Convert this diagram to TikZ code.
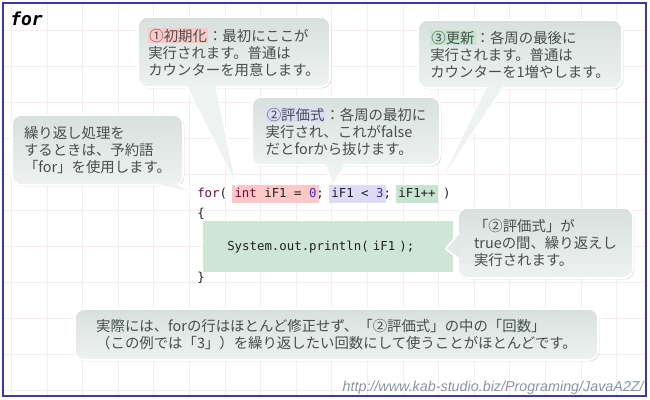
\documentclass[tikz,border=0pt]{standalone}
\usepackage{fontspec}
\setmainfont{Noto Sans CJK JP}
\newfontfamily\codefont{DejaVu Sans Mono}[ItalicFont={DejaVu Sans Mono Oblique}, BoldItalicFont={DejaVu Sans Mono Bold Oblique}]
\newfontfamily\urlfont{Liberation Sans}
\usetikzlibrary{positioning,calc,shadows}

\definecolor{framecol}{HTML}{3A3AA6}
\definecolor{gridcol}{HTML}{FAEAEF}
\definecolor{notetop}{HTML}{D8E0DD}
\definecolor{notemid}{HTML}{E3E9E6}
\definecolor{notebot}{HTML}{EEF2F0}
\definecolor{notetext}{HTML}{43504B}
\definecolor{initbg}{HTML}{FFC8C8}
\definecolor{condbg}{HTML}{DCDCF8}
\definecolor{updbg}{HTML}{C6E4CF}
\definecolor{bodybg}{HTML}{CDE6D5}
\definecolor{codekw}{HTML}{800040}
\definecolor{codenum}{HTML}{3A2AE0}
\definecolor{codetext}{HTML}{202020}
\definecolor{urlcol}{HTML}{8A94A8}

\newlength\cw
\setlength\cw{5.587pt}
\newcommand\kw[1]{\textcolor{codekw}{#1}}
\newcommand\num[1]{\textcolor{codenum}{#1}}
\newcommand\hlbox[2]{{\setlength\fboxsep{0.8pt}\colorbox{#1}{#2}}}
\newcommand\notesize{\fontsize{10.8}{12.75}\selectfont}
\newcommand\codesize{\fontsize{9.28}{11}\selectfont}

\begin{document}
\begin{tikzpicture}[x=0.75pt, y=-0.75pt,
  note/.style={draw=white, line width=1.2pt, rounded corners=7pt, top color=notetop, bottom color=notebot,
    text=notetext, align=left, font=\notesize, inner sep=0pt,
    drop shadow={shadow xshift=1pt, shadow yshift=-1pt, opacity=0.25}},
  tail/.style={fill=#1, draw=white, line width=1.2pt, line join=round},
  tail/.default=notebot,
  code/.style={font=\codefont\codesize, text=codetext, anchor=base west, inner xsep=0pt, inner ysep=1.75pt,
    text height=7.5pt, text depth=2.5pt},
  codehl/.style={code, fill=#1, inner xsep=2pt, xshift=-2pt}]
\useasboundingbox (0,0) rectangle (650,400);
\fill[white] (0,0) rectangle (650,400);
% grid
\foreach \gx in {11.4,47,...,640} \draw[gridcol, line width=0.5pt] (\gx,4) -- (\gx,395);
\foreach \gy in {30,66,...,390} \draw[gridcol, line width=0.5pt] (4,\gy) -- (645,\gy);

\node[font=\codefont\bfseries\itshape\fontsize{13.5}{16}\selectfont, anchor=base west, inner sep=0pt] (title) at (10,25) {for};

% code
\node[code] (kw) at (197,197) {\kw{for}(};
\node[codehl=initbg] (init) at ([xshift=5\cw]kw.base west) {\kw{int} iF1 = \num{0}};
\node[code] (semi1) at ([xshift=16\cw]kw.base west) {;};
\node[codehl=condbg] (cond) at ([xshift=18\cw]kw.base west) {iF1 < \num{3}};
\node[code] (semi2) at ([xshift=25\cw]kw.base west) {;};
\node[codehl=updbg] (upd) at ([xshift=27\cw]kw.base west) {iF1++};
\node[code] (paren) at ([xshift=33\cw]kw.base west) {)};
\node[code] (open) at (197,217.5) {\{};
\node[fill=bodybg, font=\codefont\codesize, text=codetext, anchor=north west, minimum height=38.25pt,
  text width=151.5pt, inner xsep=18pt, inner ysep=0pt, align=left] (body) at (203,221) {System.out.println( iF1 );};
\node[code] (shut) at (197,281.5) {\}};

% callouts
\node[note, minimum width=144pt, minimum height=52.5pt] (initnote) at (234,52)
  {\hlbox{initbg}{①初期化}：最初にここが\\実行されます。普通は\\カウンターを用意します。};
\node[note, minimum width=141pt, minimum height=51pt] (condnote) at (346,131)
  {\hlbox{condbg}{②評価式}：各周の最初に\\実行され、これがfalse\\だとforから抜けます。};
\node[note, minimum width=153pt, minimum height=51pt] (updnote) at (520,54)
  {\hlbox{updbg}{③更新}：各周の最後に\\実行されます。普通は\\カウンターを1増やします。};
\node[note, minimum width=128.25pt, minimum height=52.5pt] (fornote) at (97.5,150)
  {繰り返し処理を\\するときは、予約語\\「for」を使用します。};
\node[note, minimum width=131.25pt, minimum height=52.5pt] (loopnote) at (545.5,243)
  {「②評価式」が\\trueの間、繰り返えし\\実行されます。};
\node[note, minimum width=392.25pt, minimum height=38.25pt] (tipnote) at (336.5,334.5)
  {実際には、forの行はほとんど修正せず、「②評価式」の中の「回数」\\（この例では「3」）を繰り返したい回数にして使うことがほとんどです。};

% tails
\path[tail] ($(initnote.south)+(-48,-2)$) -- ($(init.north west)+(5,2)$) -- ($(initnote.south)+(-18,-2)$);
\path[tail] ($(condnote.south)+(-22,-2)$) -- ($(cond.north west)+(5,0)$) -- ($(condnote.south)+(0,-2)$);
\path[tail] ($(updnote.south)+(-34,-2)$) -- (upd.north east) -- ($(updnote.south)+(-16,-2)$);
\path[tail] ($(fornote.south)+(56,-2)$) -- ($(kw.west)+(-2,0)$) -- ($(fornote.south)+(80,-2)$);
\path[tail=notemid] ($(loopnote.west)+(2,-10)$) -- ($(body.east)+(-8,2)$) -- ($(loopnote.west)+(2,16)$);

\node[font=\urlfont\itshape\fontsize{10.75}{13}\selectfont, text=urlcol, anchor=base east, inner sep=0pt] (url)
  at (644,391) {http://www.kab-studio.biz/Programing/JavaA2Z/};

\draw[framecol, line width=1.6pt] (3,3) rectangle (646,396);
\end{tikzpicture}
\end{document}
